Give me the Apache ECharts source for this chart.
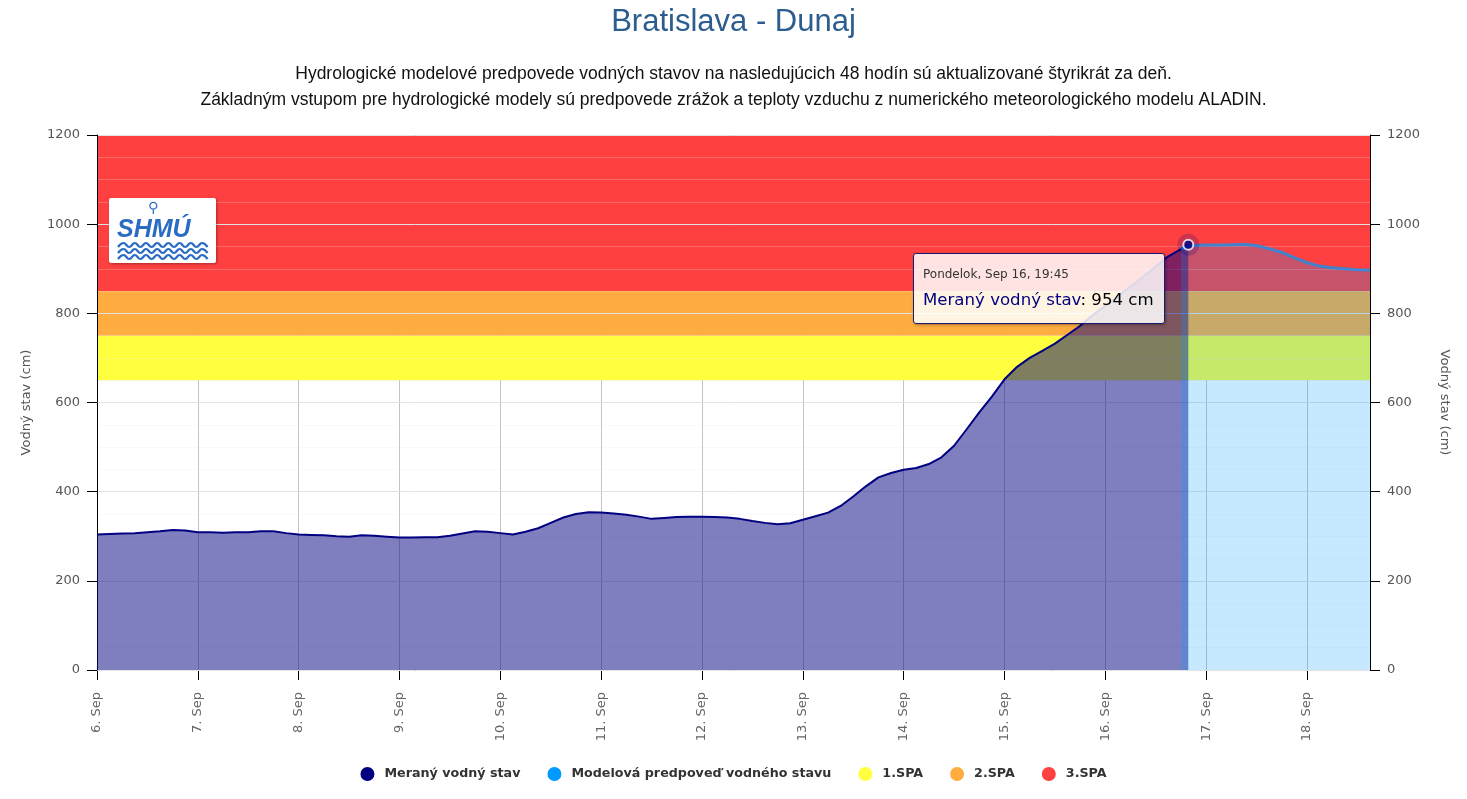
<!DOCTYPE html>
<html>
<head>
<meta charset="utf-8">
<script src="https://cdn.jsdelivr.net/npm/echarts@6/dist/echarts.min.js"></script>
<style>
html,body{margin:0;padding:0;background:#fff;}
#chart{width:1467px;height:799px;}
</style>
</head>
<body>
<div id="chart"></div>
<script>
// ---- data ----
const titleText = 'Bratislava - Dunaj';
const subtitleLines = [
  'Hydrologické modelové predpovede vodných stavov na nasledujúcich 48 hodín sú aktualizované štyrikrát za deň.',
  'Základným vstupom pre hydrologické modely sú predpovede zrážok a teploty vzduchu z numerického meteorologického modelu ALADIN.'
];
const logoText = 'SHMÚ';
const dayLabels = ['6. Sep','7. Sep','8. Sep','9. Sep','10. Sep','11. Sep','12. Sep','13. Sep','14. Sep','15. Sep','16. Sep','17. Sep','18. Sep'];
const xMaxHours = 303; // 18. Sep 15:00, hours from 6. Sep 00:00

const measuredName = 'Meraný vodný stav';
const measuredStartHour = 0;
const measuredStepHours = 3;
const measuredValues = [
  304,305,306,307,309,311,314,313,
  309,309,308,309,309,311,311,307,
  304,303,302,300,299,302,301,299,
  297,297,298,298,301,306,311,310,
  307,304,310,318,330,342,350,354,
  353,351,348,344,339,341,343,344,
  344,343,342,339,334,330,327,329,
  337,345,353,368,389,412,432,442,
  449,453,462,477,503,540,578,613,
  652,680,700,716,732,752,772,796,
  817,838,860,882,905,928,944
];
const measuredLastHour = 259.75; // 16. Sep 19:45
const measuredLastValue = 954;
const tooltipDateLabel = 'Pondelok, Sep 16, 19:45';

const forecastName = 'Modelová predpoveď vodného stavu';
const forecastStartHour = 258;
const forecastStepHours = 3;
const forecastValues = [946,952,953,953,954,955,952,945,937,925,914,906,902,900,898,897];

const spaNames = ['1.SPA','2.SPA','3.SPA'];
const spaLower = [650,750,850];
const spaUpper = [750,850,1200];

// ---- build ----
const measuredData = measuredValues.map((v,i)=>[measuredStartHour + i*measuredStepHours, v]);
measuredData.push([measuredLastHour, measuredLastValue]);
const forecastData = forecastValues.map((v,i)=>[forecastStartHour + i*forecastStepHours, v]);

const spaColors = ['#ffff40','#ffad40','#ff4040'];
const FONT = 'DejaVu Sans, sans-serif';

const chart = echarts.init(document.getElementById('chart'), null, {renderer:'canvas'});

const bandSeries = spaNames.map((n,i)=>({
  name: n,
  type: 'line',
  data: [],
  z: 0,
  itemStyle: {color: spaColors[i]},
  lineStyle: {color: spaColors[i]},
  silent: true,
  markArea: {
    silent: true,
    z: 0.5,
    itemStyle: {color: spaColors[i], opacity: 1},
    data: [[{yAxis: spaLower[i]}, {yAxis: spaUpper[i]}]]
  }
}));

const yAxisBase = {
  type: 'value', min: 0, max: 1200, interval: 200,
  z: 1,
  name: 'Vodný stav (cm)',
  nameLocation: 'middle',
  nameTextStyle: {fontFamily: FONT, fontSize: 13, color: '#555'},
  axisLine: {show: true, lineStyle: {color: '#000', width: 1}},
  axisTick: {show: true, length: 10, lineStyle: {color: '#000'}},
  axisLabel: {fontFamily: FONT, fontSize: 13, color: '#555', margin: 17, formatter: v => String(v)}
};

// logo waves (decorative)
function wave(y){
  const pts = [];
  for (let k = 0; k <= 16; k++) pts.push([118 + k*5.6, y + (k % 2 ? -2 : 2)]);
  return {type: 'polyline', z: 10, shape: {points: pts, smooth: 0.5}, style: {stroke: '#2a6cc4', lineWidth: 2.2, fill: null}};
}

chart.setOption({
  animation: false,
  backgroundColor: '#fff',
  title: [{
    text: titleText,
    left: 'center', top: 2,
    textStyle: {fontFamily: 'Liberation Sans, Arial, sans-serif', fontSize: 31, fontWeight: 'normal', color: '#2c5d8f'}
  },{
    text: subtitleLines.join('\n'),
    left: 'center', top: 56,
    textStyle: {fontFamily: 'Liberation Sans, Arial, sans-serif', fontSize: 17.5, fontWeight: 'normal', color: '#111', lineHeight: 26, align: 'center'}
  }],
  graphic: [
    {type: 'rect', z: 10, shape: {x: 109, y: 198, width: 107, height: 65, r: 2},
     style: {fill: '#fff', shadowBlur: 3, shadowColor: 'rgba(0,0,0,0.35)', shadowOffsetX: 1, shadowOffsetY: 1}},
    {type: 'text', z: 11, left: 117, top: 218,
     style: {text: logoText, fill: '#2a6cc4', font: 'bold italic 25px "Liberation Sans", Arial, sans-serif'}},
    {type: 'text', z: 11, left: 148, top: 201,
     style: {text: '⚲', fill: '#2a6cc4', font: '14px "DejaVu Sans", sans-serif'}},
    wave(245), wave(251), wave(257)
  ],
  grid: {left: 97, right: 97, top: 135, bottom: 129, containLabel: false},
  legend: {
    bottom: 13, left: 'center',
    icon: 'circle', itemWidth: 24, itemHeight: 14, itemGap: 27,
    data: [measuredName, forecastName].concat(spaNames),
    textStyle: {fontFamily: FONT, fontSize: 12.7, fontWeight: 'bold', color: '#333'}
  },
  tooltip: {
    trigger: 'item', triggerOn: 'none', alwaysShowContent: true,
    transitionDuration: 0, showDelay: 0,
    position: [913, 253],
    backgroundColor: 'rgba(255,255,255,0.85)',
    borderColor: '#1a1a6e', borderWidth: 1,
    padding: [11, 10, 10, 9],
    extraCssText: 'box-shadow:1px 1px 3px rgba(0,0,0,0.35);border-radius:3px;',
    textStyle: {fontFamily: FONT},
    formatter: function(p){
      return '<div style="font-family:DejaVu Sans,sans-serif;font-size:12px;color:#333;line-height:18px;margin-bottom:4px;">' + tooltipDateLabel + '</div>' +
             '<div style="font-family:DejaVu Sans,sans-serif;font-size:16.6px;line-height:26px;color:#000;"><span style="color:#000080">' + measuredName + '</span>: ' + p.value[1] + ' cm</div>';
    }
  },
  xAxis: {
    type: 'value', min: 0, max: xMaxHours, interval: 24,
    z: 0,
    axisLine: {show: true, onZero: false, lineStyle: {color: '#333', width: 1}},
    axisTick: {show: true, length: 10, lineStyle: {color: '#000'}},
    axisLabel: {
      rotate: 90, margin: 22, fontFamily: FONT, fontSize: 13, color: '#666',
      showMaxLabel: false,
      formatter: v => dayLabels[Math.round(v/24)] || ''
    },
    splitLine: {show: true, lineStyle: {color: '#c4c4c4', width: 1}}
  },
  yAxis: [
    Object.assign({}, yAxisBase, {
      position: 'left', nameGap: 64, nameRotate: 90,
      splitLine: {show: true, lineStyle: {color: '#e2e2e2', width: 1}},
      minorTick: {show: false, splitNumber: 4},
      minorSplitLine: {show: true, lineStyle: {color: 'rgba(230,230,230,0.25)', width: 1}}
    }),
    Object.assign({}, yAxisBase, {
      position: 'right', nameGap: 68, nameRotate: -90,
      splitLine: {show: false}
    })
  ],
  series: bandSeries.concat([
    {
      name: measuredName,
      type: 'line',
      data: measuredData,
      z: 2,
      showSymbol: false,
      symbol: 'none',
      silent: true,
      itemStyle: {color: '#000080'},
      lineStyle: {color: '#000080', width: 2},
      areaStyle: {color: 'rgba(0,0,128,0.5)', opacity: 1, origin: 'start'}
    },
    {
      name: forecastName,
      type: 'line',
      data: forecastData,
      z: 3,
      showSymbol: false,
      symbol: 'none',
      silent: true,
      itemStyle: {color: '#0099ff'},
      lineStyle: {color: '#0099ff', width: 3, opacity: 0.7},
      areaStyle: {color: 'rgba(0,153,255,0.22)', opacity: 1, origin: 'start'}
    },
    {
      name: 'halo',
      type: 'scatter',
      data: [[measuredLastHour, measuredLastValue]],
      z: 4,
      silent: true,
      symbolSize: 22,
      itemStyle: {color: 'rgba(0,0,128,0.25)'},
      tooltip: {show: false}
    },
    {
      name: 'marker',
      type: 'scatter',
      data: [[measuredLastHour, measuredLastValue]],
      z: 5,
      symbolSize: 10,
      emphasis: {scale: false},
      itemStyle: {color: '#000080', borderColor: '#fff', borderWidth: 2}
    }
  ])
});

const markerIndex = bandSeries.length + 3;
chart.dispatchAction({type: 'showTip', seriesIndex: markerIndex, dataIndex: 0});
</script>
</body>
</html>
